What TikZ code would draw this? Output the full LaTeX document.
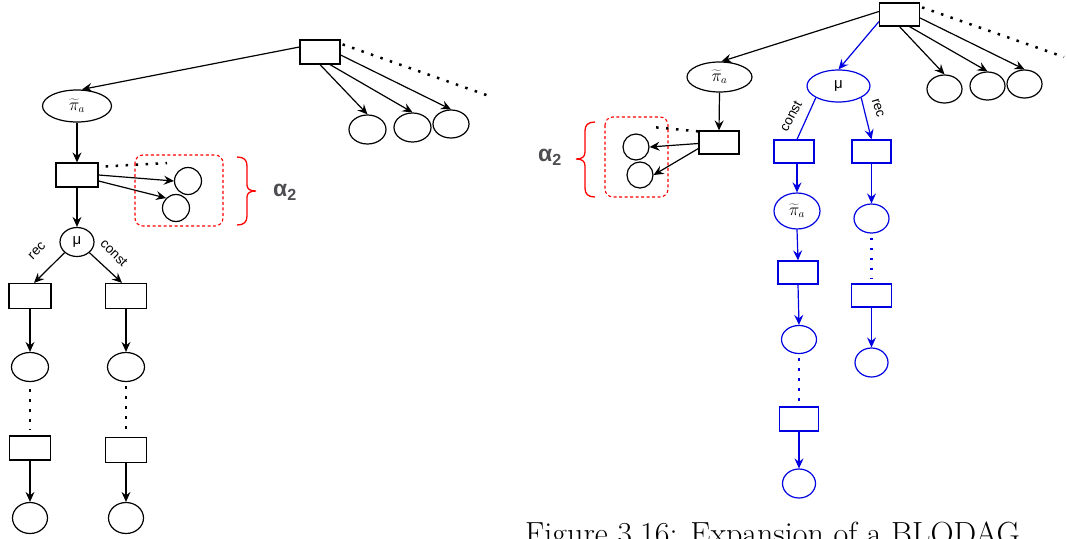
\documentclass[tikz,border=0pt]{standalone}
\usepackage{fontspec}
\newfontfamily\arialf{Liberation Sans}
\usetikzlibrary{shapes.geometric,arrows.meta}
\definecolor{dblue}{RGB}{0,0,225}
\definecolor{agray}{RGB}{77,77,82}
\begin{document}
\begin{tikzpicture}[x=1pt,y=-1pt,
  box/.style={draw, rectangle, minimum width=40pt, minimum height=24pt, inner sep=0pt, line width=1.2pt},
  ell/.style={draw, ellipse, inner sep=0pt, line width=1.2pt},
  arr/.style={-{Stealth[length=10pt,width=9pt,inset=3.5pt]}, line width=1.2pt},
  plain/.style={line width=1.2pt},
  dots/.style={line width=2.5pt, dash pattern=on 2.5pt off 7.5pt},
  lab/.style={font=\arialf\fontsize{13.5}{15}\selectfont, inner sep=0pt},
  pil/.style={font=\fontsize{16}{18}\selectfont},
  mul/.style={font=\arialf\fontsize{15}{17}\selectfont},
  alab/.style={font=\arialf\bfseries\fontsize{23}{26}\selectfont, text=agray, inner sep=0pt},
  redbox/.style={draw=red, dash pattern=on 3pt off 2.5pt, rounded corners=8pt, line width=1.1pt},
  brc/.style={draw=red, line width=1.3pt},
  bl/.style={draw=dblue, text=black}
]
\useasboundingbox (0,0) rectangle (1067,538);
\clip (0,0) rectangle (1067,538);

% ---------------- left diagram ----------------
\node[box] (L0) at (320,52) {};
\node[ell, minimum width=69pt, minimum height=32pt, pil] (piL) at (77,106) {$\widetilde{\pi}_a$};
\node[box, minimum width=42pt] (L1) at (77,175) {};
\node[ell, minimum width=27pt, minimum height=27pt] (c1) at (188,181) {};
\node[ell, minimum width=27pt, minimum height=27pt] (c2) at (176,208) {};
\node[ell, minimum width=34pt, minimum height=29pt, mul] (mu) at (77,242) {μ};
\node[box, minimum width=42pt, minimum height=25pt] (L2a) at (30,296) {};
\node[box, minimum width=41pt, minimum height=25pt] (L2b) at (126,296) {};
\node[ell, minimum width=37pt, minimum height=29pt] (L3a) at (30,367) {};
\node[ell, minimum width=37pt, minimum height=29pt] (L3b) at (126,367) {};
\node[box, minimum width=41pt] (L4a) at (30,448) {};
\node[box, minimum width=41pt, minimum height=25pt] (L4b) at (126,450) {};
\node[ell, minimum width=35pt, minimum height=31pt] (L5a) at (30,518) {};
\node[ell, minimum width=35pt, minimum height=31pt] (L5b) at (126,518) {};
\node[ell, minimum width=37pt, minimum height=29pt] (e1) at (367.5,129.5) {};
\node[ell, minimum width=37pt, minimum height=29pt] (e2) at (412.5,127.5) {};
\node[ell, minimum width=36pt, minimum height=28pt] (e3) at (451,124) {};
\coordinate (dL0) at (492,97);
\coordinate (dL1) at (167,163);

\draw[arr] ([yshift=5pt]L0.west) -- ([xshift=5pt]piL.north);
\draw[arr] (piL.south) -- (L1.north);
\draw[dots] ([xshift=7pt,yshift=-4pt]L1.north east) -- (dL1);
\draw[arr] (L1.east) -- (c1.west);
\draw[arr] ([yshift=-6pt]L1.east) -- (c2.north west);
\draw[arr] (L1.south) -- (mu.north);
\draw[arr] (mu.south west) -- ([xshift=4pt]L2a.north);
\draw[arr] (mu.south east) -- ([xshift=-4pt]L2b.north);
\draw[arr] (L2a.south) -- (L3a.north);
\draw[arr] (L2b.south) -- (L3b.north);
\draw[dots, shorten <=7pt, shorten >=6pt] (L3a.south) -- (L4a.north);
\draw[dots, shorten <=4pt, shorten >=4pt] (L3b.south) -- (L4b.north);
\draw[arr] (L4a.south) -- (L5a.north);
\draw[arr] (L4b.south) -- (L5b.north);
\draw[arr] (L0.south) -- (e1.north);
\draw[arr] ([xshift=10pt]L0.south) -- (e2.north);
\draw[arr] ([yshift=-3pt]L0.east) -- (e3.north);
\draw[dots] ([xshift=2pt,yshift=-5pt]L0.north east) -- (dL0);

\node[lab, rotate=45] (recL) at (37,251) {rec};
\node[lab, rotate=-45] (constL) at (114,253) {const};

\draw[redbox] (135,155) rectangle (223,226);
\draw[brc] (237,157) .. controls (244,157) and (247,160) .. (247,166) -- (247,185)
  .. controls (247,189) and (250,191) .. (256,191)
  .. controls (250,191) and (247,193) .. (247,197) -- (247,216)
  .. controls (247,222) and (244,225) .. (237,225);
\node[alab] (aL) at (285,192) {α\textsubscript{2}};

% ---------------- right diagram ----------------
\node[box, minimum height=23pt] (R0) at (899.5,14.5) {};
\node[ell, minimum width=65pt, minimum height=30pt, pil] (piR) at (719.5,77) {$\widetilde{\pi}_a$};
\node[box, minimum height=23pt] (R1) at (719,142.5) {};
\node[ell, minimum width=26pt, minimum height=26pt] (c3) at (636,147) {};
\node[ell, minimum width=26pt, minimum height=26pt] (c4) at (640,175) {};
\node[ell, bl, minimum width=63pt, minimum height=32pt, mul] (mu2) at (838.5,86) {μ};
\node[ell, minimum width=35pt, minimum height=28pt] (e4) at (944.5,89) {};
\node[ell, minimum width=35pt, minimum height=28pt] (e5) at (987.5,86) {};
\node[ell, minimum width=35pt, minimum height=28pt] (e6) at (1024.5,84) {};
\node[box, bl, minimum height=23pt] (R2a) at (794,151.5) {};
\node[box, bl, minimum width=39pt, minimum height=23pt] (R2b) at (871.5,151.5) {};
\node[ell, bl, minimum width=46pt, minimum height=36pt, pil] (piR3) at (797,211) {$\widetilde{\pi}_a$};
\node[ell, bl, minimum width=35pt, minimum height=29pt] (e7) at (871.5,218.5) {};
\node[box, bl, minimum height=23pt] (R3a) at (798,272.5) {};
\node[ell, bl, minimum width=35pt, minimum height=28pt] (e8) at (799,339.5) {};
\node[box, bl, minimum width=39pt] (R4a) at (799,419) {};
\node[ell, bl, minimum width=33pt, minimum height=29pt] (e9) at (799,483.5) {};
\node[box, bl, minimum height=23pt] (R3b) at (871.5,295.5) {};
\node[ell, bl, minimum width=33pt, minimum height=29pt] (e10) at (871.5,362.5) {};
\coordinate (dR0) at (1064,57);
\coordinate (dR1) at (652,127);

\draw[arr] ([yshift=3pt]R0.west) -- ([xshift=2pt]piR.north);
\draw[arr] (piR.south) -- (R1.north);
\draw[arr] ([yshift=-1pt]R1.west) -- (c3.east);
\draw[arr] ([yshift=-6pt]R1.west) -- (c4.east);
\draw[dots] ([yshift=-1pt]R1.north west) -- (dR1);
\draw[arr, dblue] ([yshift=5pt]R0.south west) -- (mu2.north);
\draw[arr] (R0.south) -- (e4.north);
\draw[arr] ([xshift=10pt]R0.south) -- (e5.north);
\draw[arr] ([yshift=-3.5pt]R0.east) -- (e6.north);
\draw[dots] ([xshift=2pt,yshift=-5pt]R0.north east) -- (dR0);
\draw[plain, dblue] (mu2.south west) -- ([xshift=3pt]R2a.north);
\draw[arr, dblue] (mu2.south east) -- (R2b.north);
\draw[arr, dblue] ([xshift=3pt]R2a.south) -- (piR3.north);
\draw[arr, dblue] (R2b.south) -- (e7.north);
\draw[arr, dblue] (piR3.south) -- (R3a.north);
\draw[arr, dblue] (R3a.south) -- (e8.north);
\draw[dots, dblue, shorten <=4pt, shorten >=3pt] (e8.south) -- (R4a.north);
\draw[arr, dblue] (R4a.south) -- (e9.north);
\draw[dots, dblue, shorten <=4pt, shorten >=5pt] (e7.south) -- (R3b.north);
\draw[arr, dblue] (R3b.south) -- (e10.north);

\node[lab, rotate=62] (constR) at (791,116) {const};
\node[lab, rotate=-72] (recR) at (878,108) {rec};

\draw[redbox] (605,117) rectangle (668,197);
\draw[brc] (595,122) .. controls (588,122) and (585,125) .. (585,131) -- (585,152)
  .. controls (585,157) and (582,159) .. (576,159)
  .. controls (582,159) and (585,161) .. (585,166) -- (585,188)
  .. controls (585,194) and (588,197) .. (595,197);
\node[alab] (aR) at (550,157) {α\textsubscript{2}};

% caption (cut off by the frame)
\node[anchor=base west, inner sep=0pt, font=\fontsize{32}{36}\selectfont] (cap) at (525,544) {Figure 3.16: Expansion of a BLODAG};
\end{tikzpicture}
\end{document}
